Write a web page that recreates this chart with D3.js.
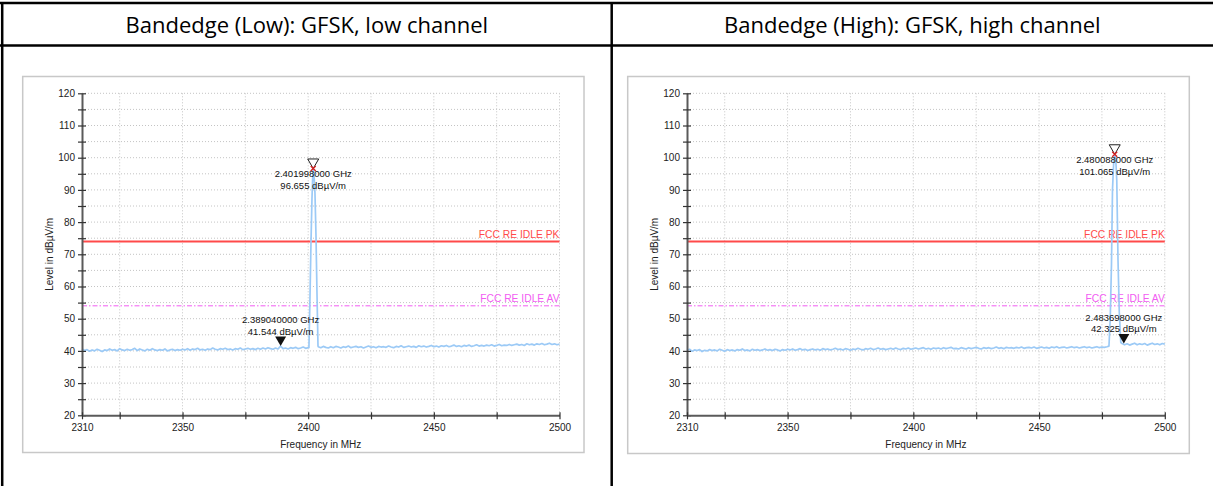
<!DOCTYPE html>
<html><head><meta charset="utf-8">
<script src="https://cdn.jsdelivr.net/npm/d3@7"></script>
<style>body{margin:0;background:#fff}svg{display:block}</style>
</head><body>
<svg id="c" width="1213" height="486"></svg>
<script>
// ---------------- DATA ----------------
const panelTitles = ["Bandedge (Low): GFSK, low channel", "Bandedge (High): GFSK, high channel"];
const xDomain = [2310, 2500];
const yDomain = [20, 120];
const xTickValues = [2310, 2325, 2350, 2375, 2400, 2425, 2450, 2475, 2500];
const xTickLabels = [2310, 2350, 2400, 2450, 2500];
const yTickValues = [20, 25, 30, 35, 40, 45, 50, 55, 60, 65, 70, 75, 80, 85, 90, 95, 100, 105, 110, 115, 120];
const yTickLabels = [20, 30, 40, 50, 60, 70, 80, 90, 100, 110, 120];
const xAxisTitle = "Frequency in MHz";
const yAxisTitle = "Level in dBµV/m";
const limitNames = ["FCC RE IDLE PK", "FCC RE IDLE AV"];
const limitLevels = [74, 54];

// Low channel trace (MHz, dBµV/m)
const lowBeforeStart = 2310; // 1 MHz steps
const lowBefore = [
  40.6, 40.1, 40.4, 39.9, 40.3, 40.0, 40.5, 40.2, 39.8, 40.3,
  40.1, 40.6, 40.2, 40.4, 40.0, 40.7, 40.3, 40.1, 40.5, 40.2,
  40.4, 40.8, 40.1, 40.6, 40.3, 40.0, 40.5, 40.2, 40.7, 40.3,
  40.1, 40.4, 40.2, 40.6, 40.0, 40.3, 40.5, 40.1, 40.4, 40.2,
  40.5, 40.3, 40.7, 40.2, 40.6, 40.4, 40.8, 40.3, 40.5, 40.2,
  40.6, 40.4, 40.9, 40.5, 40.3, 40.7, 40.5, 40.8, 40.4, 40.6,
  40.3, 40.7, 40.5, 40.9, 40.4, 40.6, 40.8, 40.5, 40.7, 40.4,
  40.8, 40.5, 40.9, 40.6, 41.0, 40.7, 40.5, 40.9, 40.6, 41.5,
  40.7, 40.9, 40.6, 41.0, 40.8, 41.1, 40.7, 40.9, 41.2, 40.8, 41.0
];
const lowPeakFreq = [2400.3, 2400.7, 2401.1, 2401.5, 2401.8, 2401.998, 2402.3, 2402.7, 2403.1, 2403.5, 2403.9];
const lowPeakLevel = [41.0, 56, 73, 87, 94, 96.655, 95, 89, 76, 58, 41.6];
const lowAfterStart = 2404;
const lowAfter = [
  41.3, 41.0, 41.4, 41.1, 40.9, 41.3,
  41.0, 41.4, 41.2, 40.9, 41.3, 41.1, 41.5, 41.0, 41.2, 41.4,
  41.1, 41.3, 40.9, 41.2, 41.5, 41.1, 41.3, 41.0, 41.4, 41.2,
  41.3, 41.1, 41.5, 41.2, 41.0, 41.4, 41.2, 41.6, 41.1, 41.3,
  41.5, 41.2, 41.4, 41.1, 41.6, 41.3, 41.5, 41.2, 41.4, 41.7,
  41.3, 41.5, 41.2, 41.6, 41.4, 41.7, 41.3, 41.5, 41.8, 41.4,
  41.6, 41.3, 41.7, 41.5, 41.8, 41.4, 41.6, 41.9, 41.5, 41.7,
  41.5, 41.8, 41.6, 41.9, 41.5, 41.7, 42.0, 41.6, 41.8, 41.7,
  42.0, 41.7, 41.9, 42.1, 41.8, 42.0, 41.7, 42.2, 41.9, 42.1,
  41.8, 42.2, 42.0, 42.3, 41.9, 42.1, 42.4, 42.0, 42.2, 41.9, 42.1
];
const lowMarkerFreq = [2401.998, 2389.040];
const lowMarkerLevel = [96.655, 41.544];

// High channel trace
const highBeforeStart = 2310;
const highBefore = [
  40.2, 40.5, 39.9, 40.3, 40.1, 40.4, 39.8, 40.2, 40.0, 40.4,
  40.1, 40.3, 40.0, 40.5, 40.2, 39.9, 40.4, 40.1, 40.3, 40.0,
  40.4, 40.2, 40.6, 40.1, 40.3, 40.0, 40.5, 40.2, 40.4, 40.1,
  40.3, 40.6, 40.2, 40.4, 40.1, 40.5, 40.3, 40.0, 40.4, 40.2,
  40.5, 40.3, 40.6, 40.2, 40.4, 40.7, 40.3, 40.5, 40.1, 40.4,
  40.6, 40.3, 40.5, 40.2, 40.7, 40.4, 40.6, 40.3, 40.5, 40.8,
  40.4, 40.6, 40.3, 40.7, 40.5, 40.2, 40.6, 40.4, 40.8, 40.5,
  40.3, 40.7, 40.5, 40.8, 40.4, 40.6, 40.9, 40.5, 40.7, 40.4,
  40.6, 40.8, 40.5, 40.9, 40.6, 40.4, 40.8, 40.6, 40.9, 40.5,
  40.7, 40.9, 40.6, 40.8, 41.0, 40.6, 40.8, 40.5, 40.9, 40.7,
  40.9, 40.6, 41.0, 40.7, 40.9, 41.1, 40.7, 40.8, 40.6, 41.0,
  40.8, 40.6, 41.0, 40.7, 40.9, 41.1, 40.8, 40.6, 41.0, 40.8,
  41.0, 40.7, 40.9, 41.2, 40.8, 41.0, 40.7, 41.1, 40.9, 41.0,
  40.8, 41.1, 40.9, 41.2, 40.8, 41.0, 41.1, 40.9, 41.2, 40.8,
  41.0, 41.2, 40.9, 41.1, 40.8, 41.2, 41.0, 41.3, 40.9, 41.1,
  41.2, 40.9, 41.1, 41.3, 41.0, 41.2, 40.9, 41.1, 41.3, 41.0,
  41.2, 40.9, 41.1, 41.3, 41.0, 41.2, 41.1, 41.3
];
const highPeakFreq = [2477.8, 2478.3, 2478.8, 2479.2, 2479.7, 2480.088, 2480.5, 2480.9, 2481.4, 2481.9, 2482.5];
const highPeakLevel = [41.5, 50, 67, 90, 99, 101.065, 99.5, 93, 68, 52, 42.6];
const highAfterStart = 2483;
const highAfter = [42.3, 41.9, 42.2, 41.8, 42.1, 42.4, 41.9, 42.2, 42.0, 42.3, 41.8, 42.1, 42.4, 42.0, 42.2, 41.9, 42.3, 42.1];
const highMarkerFreq = [2480.088, 2483.698];
const highMarkerLevel = [101.065, 42.325];
const markerKinds = ["peak", "edge"];

// ---------------- BUILD ----------------
function buildTrace(bStart, before, pF, pL, aStart, after) {
  const pts = [];
  before.forEach((v, i) => pts.push([bStart + i, v]));
  pF.forEach((f, i) => pts.push([f, pL[i]]));
  after.forEach((v, i) => pts.push([aStart + i, v]));
  return pts;
}
const panels = [
  { title: panelTitles[0], col: [2, 611.7], frame: [22.7, 76.5, 561.3, 376],
    trace: buildTrace(lowBeforeStart, lowBefore, lowPeakFreq, lowPeakLevel, lowAfterStart, lowAfter),
    mF: lowMarkerFreq, mL: lowMarkerLevel },
  { title: panelTitles[1], col: [611.7, 1213], frame: [627.7, 76.5, 561.6, 377],
    trace: buildTrace(highBeforeStart, highBefore, highPeakFreq, highPeakLevel, highAfterStart, highAfter),
    mF: highMarkerFreq, mL: highMarkerLevel }
];

const svg = d3.select("#c");
const FONT = "'Liberation Sans', Arial, sans-serif";

svg.append("rect").attr("width", 1213).attr("height", 486).attr("fill", "#fff");

panels.forEach(p => {
  const [fx, fy, fw, fh] = p.frame;
  // chart frame
  svg.append("rect").attr("x", fx).attr("y", fy).attr("width", fw).attr("height", fh)
    .attr("fill", "#fff").attr("stroke", "#c8c8c8").attr("stroke-width", 1.5);

  const left = fx + 59.3, right = fx + fw - 24.5, top = 93.3, bottom = 415.3;
  const x = d3.scaleLinear().domain(xDomain).range([left, right]);
  const y = d3.scaleLinear().domain(yDomain).range([bottom, top]);
  const g = svg.append("g").attr("font-family", FONT);

  // grid
  g.append("g").selectAll("line").data(yTickValues.filter(d => d > yDomain[0])).join("line")
    .attr("x1", left).attr("x2", right).attr("y1", d => y(d)).attr("y2", d => y(d))
    .attr("stroke", "#c4c4c4").attr("stroke-width", 1).attr("stroke-dasharray", "1,2");
  g.append("g").selectAll("line").data(xTickValues.filter(d => d > xDomain[0])).join("line")
    .attr("x1", d => x(d)).attr("x2", d => x(d)).attr("y1", top).attr("y2", bottom)
    .attr("stroke", "#c4c4c4").attr("stroke-width", 1).attr("stroke-dasharray", "1,2");

  // limit lines
  const limitColors = ["#ff4a4a", "#f25cf2"];
  limitLevels.forEach((lv, i) => {
    g.append("line").attr("x1", left).attr("x2", right).attr("y1", y(lv)).attr("y2", y(lv))
      .attr("stroke", limitColors[i]).attr("stroke-width", i === 0 ? 2 : 1)
      .attr("stroke-dasharray", i === 0 ? null : "5,2,1.5,2");
    g.append("text").attr("x", right).attr("y", y(lv) - 3.5).attr("text-anchor", "end")
      .attr("font-size", 10.3).attr("fill", limitColors[i]).text(limitNames[i]);
  });

  // trace
  g.append("path").datum(p.trace)
    .attr("d", d3.line().x(d => x(d[0])).y(d => y(d[1])))
    .attr("fill", "none").attr("stroke", "#9ccaf6").attr("stroke-width", 1.7)
    .attr("stroke-linejoin", "round");

  // axes
  const ya = g.append("g").attr("transform", `translate(${left},0)`)
    .call(d3.axisLeft(y).tickValues(yTickValues).tickSizeInner(4).tickSizeOuter(0).tickPadding(3)
      .tickFormat(d => yTickLabels.includes(d) ? d : ""));
  ya.selectAll(".tick line").attr("x1", 4);
  const xa = g.append("g").attr("transform", `translate(0,${bottom})`)
    .call(d3.axisBottom(x).tickValues(xTickValues).tickSizeInner(4).tickSizeOuter(0).tickPadding(5)
      .tickFormat(d => xTickLabels.includes(d) ? d : ""));
  xa.selectAll(".tick line").attr("y1", -3);
  [ya, xa].forEach(a => {
    a.select(".domain").attr("stroke", "#5a5a5a").attr("stroke-width", 2);
    a.selectAll(".tick line").attr("stroke", "#333").attr("stroke-width", 1.2);
    a.selectAll("text").attr("font-size", 10).attr("fill", "#222").attr("font-family", FONT);
  });

  // axis titles
  g.append("text").attr("transform", `translate(${left - 29.5},${(top + bottom) / 2}) rotate(-90)`)
    .attr("text-anchor", "middle").attr("font-size", 10).attr("fill", "#222").text(yAxisTitle);
  g.append("text").attr("x", (left + right) / 2).attr("y", 447.5)
    .attr("text-anchor", "middle").attr("font-size", 10).attr("fill", "#222").text(xAxisTitle);

  // markers
  p.mF.forEach((f, i) => {
    const mx = x(f), my = y(p.mL[i]);
    const kind = markerKinds[i];
    const tri = `M${mx - 5.5},${my - 9.5}L${mx + 5.5},${my - 9.5}L${mx},${my}Z`;
    if (kind === "peak") {
      g.append("path").attr("d", tri).attr("fill", "none").attr("stroke", "#222").attr("stroke-width", 1);
      g.append("path").attr("d", `M${mx - 2.5},${my - 2.5}L${mx + 2.5},${my + 2.5}M${mx + 2.5},${my - 2.5}L${mx - 2.5},${my + 2.5}`)
        .attr("stroke", "#d42020").attr("stroke-width", 1.3);
    } else {
      g.append("path").attr("d", tri).attr("fill", "#111");
    }
    const l1 = (f / 1000).toFixed(9) + " GHz";
    const l2 = p.mL[i].toFixed(3) + " dBµV/m";
    const dy1 = kind === "peak" ? 8.6 : -22.5, dy2 = kind === "peak" ? 20.4 : -11;
    g.append("text").attr("x", mx).attr("y", my + dy1).attr("text-anchor", "middle")
      .attr("font-size", 9.5).attr("fill", "#111").text(l1);
    g.append("text").attr("x", mx).attr("y", my + dy2).attr("text-anchor", "middle")
      .attr("font-size", 9.5).attr("fill", "#111").text(l2);
  });

  // title
  svg.append("text").attr("x", (p.col[0] + p.col[1]) / 2).attr("y", 32.5).attr("text-anchor", "middle")
    .attr("font-family", "'Open Sans', 'Noto Sans', sans-serif").attr("font-size", 22).attr("fill", "#000")
    .text(p.title);
});

// table lines
const tbl = svg.append("g").attr("stroke", "#000").attr("stroke-width", 2.5);
tbl.append("line").attr("x1", 0).attr("x2", 1213).attr("y1", 3).attr("y2", 3);
tbl.append("line").attr("x1", 0).attr("x2", 1213).attr("y1", 45.5).attr("y2", 45.5);
tbl.append("line").attr("x1", 2.2).attr("x2", 2.2).attr("y1", 2).attr("y2", 486);
tbl.append("line").attr("x1", 611.7).attr("x2", 611.7).attr("y1", 2).attr("y2", 486);
</script>
</body></html>
